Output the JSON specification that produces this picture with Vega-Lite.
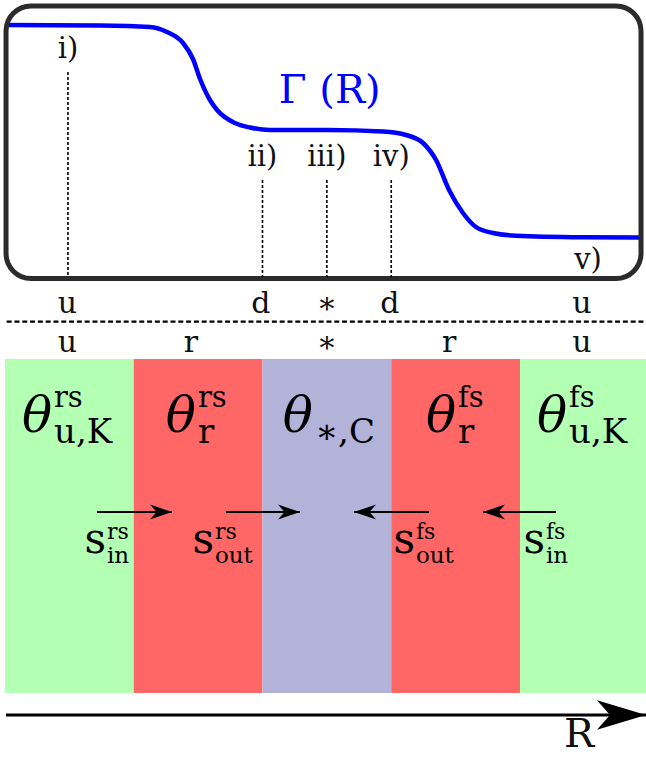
{
  "$schema": "https://vega.github.io/schema/vega-lite/v6.json",
  "width": 646,
  "height": 758,
  "padding": 0,
  "autosize": {"type": "none"},
  "background": "white",
  "config": {"view": {"stroke": null}},
  "datasets": {
    "bands": [
      {"x": 0, "x2": 1, "y": 35.9, "y2": 69.3, "region": "u"},
      {"x": 1, "x2": 2, "y": 35.9, "y2": 69.3, "region": "r"},
      {"x": 2, "x2": 3, "y": 35.9, "y2": 69.3, "region": "∗"},
      {"x": 3, "x2": 4, "y": 35.9, "y2": 69.3, "region": "r"},
      {"x": 4, "x2": 4.9786, "y": 35.9, "y2": 69.3, "region": "u"}
    ],
    "gamma": [
      {"x": 0.008, "y": 2.5}, {"x": 0.738, "y": 2.55}, {"x": 1.126, "y": 2.7},
      {"x": 1.258, "y": 3.2}, {"x": 1.383, "y": 4.3}, {"x": 1.46, "y": 5.9},
      {"x": 1.515, "y": 7.9}, {"x": 1.592, "y": 10.0}, {"x": 1.647, "y": 11.0},
      {"x": 1.786, "y": 12.3}, {"x": 1.903, "y": 12.75}, {"x": 2.058, "y": 13.0},
      {"x": 2.501, "y": 13.0}, {"x": 2.936, "y": 13.15}, {"x": 3.115, "y": 13.5},
      {"x": 3.247, "y": 14.3}, {"x": 3.348, "y": 16.0}, {"x": 3.449, "y": 19.0},
      {"x": 3.557, "y": 21.3}, {"x": 3.658, "y": 22.7}, {"x": 3.79, "y": 23.3},
      {"x": 3.969, "y": 23.57}, {"x": 4.489, "y": 23.72}, {"x": 4.94, "y": 23.75}
    ],
    "frame": [{"x": 0.008, "x2": 4.94, "y": 0.6, "y2": 27.85}],
    "stations": [
      {"x": 0.489, "y": 7.2, "y2": 27.7, "label": "i)", "ly": 5.8},
      {"x": 2.0, "y": 18.0, "y2": 27.7, "label": "ii)", "ly": 16.6},
      {"x": 2.5, "y": 18.0, "y2": 27.7, "label": "iii)", "ly": 16.6},
      {"x": 3.0, "y": 18.0, "y2": 27.7, "label": "iv)", "ly": 16.6}
    ],
    "labelv": [{"x": 4.528, "y": 26.9, "label": "v)"}],
    "gtitle": [{"x": 2.522, "y": 10.3, "label": "Γ (R)"}],
    "rows": [
      {"x": 0.485, "y": 31.3, "label": "u"},
      {"x": 1.988, "y": 31.3, "label": "d"},
      {"x": 2.5, "y": 31.3, "label": "∗"},
      {"x": 2.99, "y": 31.3, "label": "d"},
      {"x": 4.48, "y": 31.3, "label": "u"},
      {"x": 0.485, "y": 35.2, "label": "u"},
      {"x": 1.445, "y": 35.2, "label": "r"},
      {"x": 2.5, "y": 35.2, "label": "∗"},
      {"x": 3.449, "y": 35.2, "label": "r"},
      {"x": 4.48, "y": 35.2, "label": "u"}
    ],
    "divider": [{"x": 0.013, "x2": 4.9786, "y": 32.17}],
    "theta": [
      {"x": 0.365, "y": 43.2, "sym": "θ", "sup": "rs", "sub": "u,K"},
      {"x": 1.483, "y": 43.2, "sym": "θ", "sup": "rs", "sub": "r"},
      {"x": 2.392, "y": 43.2, "sym": "θ", "sup": "", "sub": "∗,C"},
      {"x": 3.503, "y": 43.2, "sym": "θ", "sup": "fs", "sub": "r"},
      {"x": 4.365, "y": 43.2, "sym": "θ", "sup": "fs", "sub": "u,K"}
    ],
    "slabels": [
      {"x": 0.784, "y": 55.3, "sym": "s", "sup": "rs", "sub": "in"},
      {"x": 1.623, "y": 55.3, "sym": "s", "sup": "rs", "sub": "out"},
      {"x": 3.184, "y": 55.3, "sym": "s", "sup": "fs", "sub": "out"},
      {"x": 4.194, "y": 55.3, "sym": "s", "sup": "fs", "sub": "in"}
    ],
    "arrows": [
      {"x": 0.7146, "x2": 1.297, "y": 51.2, "dir": "right"},
      {"x": 1.717, "x2": 2.291, "y": 51.2, "dir": "right"},
      {"x": 3.293, "x2": 2.711, "y": 51.2, "dir": "left"},
      {"x": 4.28, "x2": 3.713, "y": 51.2, "dir": "left"}
    ],
    "raxis": [{"x": 0.008, "x2": 4.9786, "y": 71.5}],
    "rlabel": [{"x": 4.458, "y": 74.7, "label": "R"}]
  },
  "layer": [
    {
      "data": {"name": "bands"},
      "mark": {"type": "rect"},
      "encoding": {
        "x": {"field": "x", "type": "quantitative", "scale": {"domain": [-0.03883, 4.97864], "nice": false, "zero": false}, "axis": null},
        "x2": {"field": "x2"},
        "y": {"field": "y", "type": "quantitative", "scale": {"domain": [0, 75.8], "nice": false, "zero": false, "reverse": true}, "axis": null},
        "y2": {"field": "y2"},
        "color": {"field": "region", "type": "nominal", "scale": {"domain": ["u", "r", "∗"], "range": ["#b3ffb3", "#ff6666", "#b3b3d9"]}, "legend": null}
      }
    },
    {
      "data": {"name": "gamma"},
      "mark": {"type": "line", "interpolate": "monotone", "color": "#0000ff", "strokeWidth": 4.5},
      "encoding": {
        "x": {"field": "x", "type": "quantitative", "scale": {"domain": [-0.03883, 4.97864], "nice": false, "zero": false}, "axis": null},
        "y": {"field": "y", "type": "quantitative", "scale": {"domain": [0, 75.8], "nice": false, "zero": false, "reverse": true}, "axis": null}
      }
    },
    {
      "data": {"name": "frame"},
      "mark": {"type": "rect", "filled": false, "stroke": "#2b2b2b", "strokeWidth": 5, "cornerRadius": 25},
      "encoding": {
        "x": {"field": "x", "type": "quantitative", "scale": {"domain": [-0.03883, 4.97864], "nice": false, "zero": false}, "axis": null},
        "x2": {"field": "x2"},
        "y": {"field": "y", "type": "quantitative", "scale": {"domain": [0, 75.8], "nice": false, "zero": false, "reverse": true}, "axis": null},
        "y2": {"field": "y2"}
      }
    },
    {
      "data": {"name": "stations"},
      "mark": {"type": "rule", "color": "#000000", "strokeWidth": 1.6, "strokeDash": [3, 2]},
      "encoding": {
        "x": {"field": "x", "type": "quantitative", "scale": {"domain": [-0.03883, 4.97864], "nice": false, "zero": false}, "axis": null},
        "y": {"field": "y", "type": "quantitative", "scale": {"domain": [0, 75.8], "nice": false, "zero": false, "reverse": true}, "axis": null},
        "y2": {"field": "y2"}
      }
    },
    {
      "data": {"name": "stations"},
      "mark": {"type": "text", "font": "DejaVu Serif", "fontSize": 29, "align": "center", "baseline": "alphabetic", "color": "#111111"},
      "encoding": {
        "x": {"field": "x", "type": "quantitative", "scale": {"domain": [-0.03883, 4.97864], "nice": false, "zero": false}, "axis": null},
        "y": {"field": "ly", "type": "quantitative", "scale": {"domain": [0, 75.8], "nice": false, "zero": false, "reverse": true}, "axis": null},
        "text": {"field": "label"}
      }
    },
    {
      "data": {"name": "labelv"},
      "mark": {"type": "text", "font": "DejaVu Serif", "fontSize": 29, "align": "center", "baseline": "alphabetic", "color": "#111111"},
      "encoding": {
        "x": {"field": "x", "type": "quantitative", "scale": {"domain": [-0.03883, 4.97864], "nice": false, "zero": false}, "axis": null},
        "y": {"field": "y", "type": "quantitative", "scale": {"domain": [0, 75.8], "nice": false, "zero": false, "reverse": true}, "axis": null},
        "text": {"field": "label"}
      }
    },
    {
      "data": {"name": "gtitle"},
      "mark": {"type": "text", "font": "DejaVu Serif", "fontSize": 40, "align": "center", "baseline": "alphabetic", "color": "#0000ff"},
      "encoding": {
        "x": {"field": "x", "type": "quantitative", "scale": {"domain": [-0.03883, 4.97864], "nice": false, "zero": false}, "axis": null},
        "y": {"field": "y", "type": "quantitative", "scale": {"domain": [0, 75.8], "nice": false, "zero": false, "reverse": true}, "axis": null},
        "text": {"field": "label"}
      }
    },
    {
      "data": {"name": "rows"},
      "mark": {"type": "text", "font": "DejaVu Serif", "fontSize": 30, "align": "center", "baseline": "alphabetic", "color": "#111111"},
      "encoding": {
        "x": {"field": "x", "type": "quantitative", "scale": {"domain": [-0.03883, 4.97864], "nice": false, "zero": false}, "axis": null},
        "y": {"field": "y", "type": "quantitative", "scale": {"domain": [0, 75.8], "nice": false, "zero": false, "reverse": true}, "axis": null},
        "text": {"field": "label"}
      }
    },
    {
      "data": {"name": "divider"},
      "mark": {"type": "rule", "color": "#000000", "strokeWidth": 2.2, "strokeDash": [5, 2.8]},
      "encoding": {
        "x": {"field": "x", "type": "quantitative", "scale": {"domain": [-0.03883, 4.97864], "nice": false, "zero": false}, "axis": null},
        "x2": {"field": "x2"},
        "y": {"field": "y", "type": "quantitative", "scale": {"domain": [0, 75.8], "nice": false, "zero": false, "reverse": true}, "axis": null}
      }
    },
    {
      "data": {"name": "theta"},
      "mark": {"type": "text", "font": "DejaVu Serif", "fontStyle": "italic", "fontSize": 50, "align": "right", "baseline": "alphabetic", "color": "#000000"},
      "encoding": {
        "x": {"field": "x", "type": "quantitative", "scale": {"domain": [-0.03883, 4.97864], "nice": false, "zero": false}, "axis": null},
        "y": {"field": "y", "type": "quantitative", "scale": {"domain": [0, 75.8], "nice": false, "zero": false, "reverse": true}, "axis": null},
        "text": {"field": "sym"}
      }
    },
    {
      "data": {"name": "theta"},
      "mark": {"type": "text", "font": "DejaVu Serif", "fontSize": 29, "align": "left", "baseline": "alphabetic", "dx": 2, "dy": -25, "color": "#000000"},
      "encoding": {
        "x": {"field": "x", "type": "quantitative", "scale": {"domain": [-0.03883, 4.97864], "nice": false, "zero": false}, "axis": null},
        "y": {"field": "y", "type": "quantitative", "scale": {"domain": [0, 75.8], "nice": false, "zero": false, "reverse": true}, "axis": null},
        "text": {"field": "sup"}
      }
    },
    {
      "data": {"name": "theta"},
      "mark": {"type": "text", "font": "DejaVu Serif", "fontSize": 34, "align": "left", "baseline": "alphabetic", "dx": 2, "dy": 11, "color": "#000000"},
      "encoding": {
        "x": {"field": "x", "type": "quantitative", "scale": {"domain": [-0.03883, 4.97864], "nice": false, "zero": false}, "axis": null},
        "y": {"field": "y", "type": "quantitative", "scale": {"domain": [0, 75.8], "nice": false, "zero": false, "reverse": true}, "axis": null},
        "text": {"field": "sub"}
      }
    },
    {
      "data": {"name": "arrows"},
      "mark": {"type": "rule", "color": "#000000", "strokeWidth": 2},
      "encoding": {
        "x": {"field": "x", "type": "quantitative", "scale": {"domain": [-0.03883, 4.97864], "nice": false, "zero": false}, "axis": null},
        "x2": {"field": "x2"},
        "y": {"field": "y", "type": "quantitative", "scale": {"domain": [0, 75.8], "nice": false, "zero": false, "reverse": true}, "axis": null}
      }
    },
    {
      "data": {"name": "arrows"},
      "transform": [{"filter": "datum.dir == 'right'"}],
      "mark": {"type": "point", "shape": "M0,0 L-2,-0.68 L-1.4,0 L-2,0.68 Z", "filled": true, "color": "#000000", "opacity": 1, "size": 484},
      "encoding": {
        "x": {"field": "x2", "type": "quantitative", "scale": {"domain": [-0.03883, 4.97864], "nice": false, "zero": false}, "axis": null},
        "y": {"field": "y", "type": "quantitative", "scale": {"domain": [0, 75.8], "nice": false, "zero": false, "reverse": true}, "axis": null}
      }
    },
    {
      "data": {"name": "arrows"},
      "transform": [{"filter": "datum.dir == 'left'"}],
      "mark": {"type": "point", "shape": "M0,0 L2,-0.68 L1.4,0 L2,0.68 Z", "filled": true, "color": "#000000", "opacity": 1, "size": 484},
      "encoding": {
        "x": {"field": "x2", "type": "quantitative", "scale": {"domain": [-0.03883, 4.97864], "nice": false, "zero": false}, "axis": null},
        "y": {"field": "y", "type": "quantitative", "scale": {"domain": [0, 75.8], "nice": false, "zero": false, "reverse": true}, "axis": null}
      }
    },
    {
      "data": {"name": "slabels"},
      "mark": {"type": "text", "font": "DejaVu Serif", "fontSize": 42, "align": "right", "baseline": "alphabetic", "color": "#000000"},
      "encoding": {
        "x": {"field": "x", "type": "quantitative", "scale": {"domain": [-0.03883, 4.97864], "nice": false, "zero": false}, "axis": null},
        "y": {"field": "y", "type": "quantitative", "scale": {"domain": [0, 75.8], "nice": false, "zero": false, "reverse": true}, "axis": null},
        "text": {"field": "sym"}
      }
    },
    {
      "data": {"name": "slabels"},
      "mark": {"type": "text", "font": "DejaVu Serif", "fontSize": 22, "align": "left", "baseline": "alphabetic", "dx": 1, "dy": -14, "color": "#000000"},
      "encoding": {
        "x": {"field": "x", "type": "quantitative", "scale": {"domain": [-0.03883, 4.97864], "nice": false, "zero": false}, "axis": null},
        "y": {"field": "y", "type": "quantitative", "scale": {"domain": [0, 75.8], "nice": false, "zero": false, "reverse": true}, "axis": null},
        "text": {"field": "sup"}
      }
    },
    {
      "data": {"name": "slabels"},
      "mark": {"type": "text", "font": "DejaVu Serif", "fontSize": 23, "align": "left", "baseline": "alphabetic", "dx": 1, "dy": 10, "color": "#000000"},
      "encoding": {
        "x": {"field": "x", "type": "quantitative", "scale": {"domain": [-0.03883, 4.97864], "nice": false, "zero": false}, "axis": null},
        "y": {"field": "y", "type": "quantitative", "scale": {"domain": [0, 75.8], "nice": false, "zero": false, "reverse": true}, "axis": null},
        "text": {"field": "sub"}
      }
    },
    {
      "data": {"name": "raxis"},
      "mark": {"type": "rule", "color": "#000000", "strokeWidth": 3},
      "encoding": {
        "x": {"field": "x", "type": "quantitative", "scale": {"domain": [-0.03883, 4.97864], "nice": false, "zero": false}, "axis": null},
        "x2": {"field": "x2"},
        "y": {"field": "y", "type": "quantitative", "scale": {"domain": [0, 75.8], "nice": false, "zero": false, "reverse": true}, "axis": null}
      }
    },
    {
      "data": {"name": "raxis"},
      "mark": {"type": "point", "shape": "M0,0 L-2,-0.6 L-1.47,0 L-2,0.6 Z", "filled": true, "color": "#000000", "opacity": 1, "size": 2401},
      "encoding": {
        "x": {"field": "x2", "type": "quantitative", "scale": {"domain": [-0.03883, 4.97864], "nice": false, "zero": false}, "axis": null},
        "y": {"field": "y", "type": "quantitative", "scale": {"domain": [0, 75.8], "nice": false, "zero": false, "reverse": true}, "axis": null}
      }
    },
    {
      "data": {"name": "rlabel"},
      "mark": {"type": "text", "font": "DejaVu Serif", "fontSize": 40, "align": "center", "baseline": "alphabetic", "color": "#111111"},
      "encoding": {
        "x": {"field": "x", "type": "quantitative", "scale": {"domain": [-0.03883, 4.97864], "nice": false, "zero": false}, "axis": null},
        "y": {"field": "y", "type": "quantitative", "scale": {"domain": [0, 75.8], "nice": false, "zero": false, "reverse": true}, "axis": null},
        "text": {"field": "label"}
      }
    }
  ]
}
